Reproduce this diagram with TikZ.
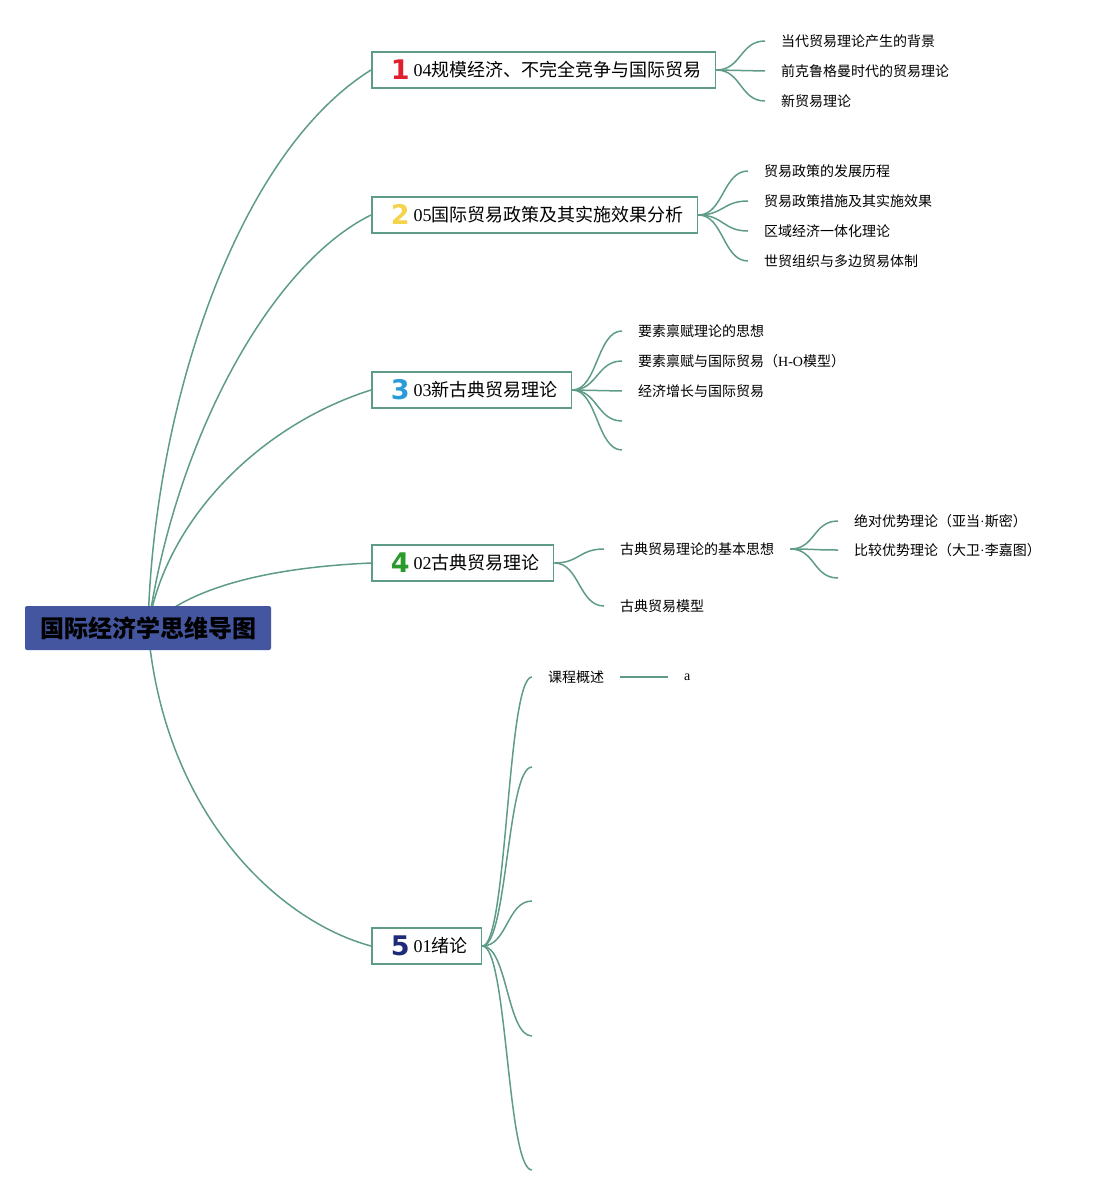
\documentclass[tikz,border=0pt]{standalone}
\usepackage{fontspec}
\setmainfont{Liberation Serif}
\newfontfamily\cjk{Noto Sans CJK SC}
\newfontfamily\numfont{DejaVu Sans}[UprightFont=*, BoldFont=* Bold]
\usetikzlibrary{backgrounds}

\newcommand\numicon[2]{\hspace*{5pt}\smash{\raisebox{-3pt}{\numfont\bfseries\fontsize{27}{27}\selectfont\color{#1}#2}}\hspace{4pt}}

\begin{document}
\begin{tikzpicture}[x=1pt, y=-1pt,
  topic/.style={fill=root blue, rounded corners=2pt, minimum width=246pt, minimum height=44pt,
                font=\cjk\bfseries\fontsize{24}{24}\selectfont},
  branch/.style={draw=link green, line width=1.6pt, fill=white, anchor=west, minimum height=36pt,
                 inner xsep=14pt, font=\cjk\fontsize{18}{18}\selectfont},
  leaf/.style={anchor=west, inner xsep=16pt, inner ysep=0pt, font=\cjk\fontsize{14}{14}\selectfont},
  link/.style={draw=link green, line width=1.5pt}]

\definecolor{link green}{HTML}{5E9C88}
\definecolor{root blue}{HTML}{4456A0}
\definecolor{icon red}{HTML}{E0202F}
\definecolor{icon yellow}{HTML}{F4D44C}
\definecolor{icon blue}{HTML}{2A9BD9}
\definecolor{icon green}{HTML}{2A9A2A}
\definecolor{icon navy}{HTML}{1F2A7A}

\useasboundingbox (0,0) rectangle (1100,1196);

% centre and main topics
\node[topic] (root) at (148,628) {国际经济学思维导图};
\node[branch] (b1) at (371,70)  {\numicon{icon red}{1}{\rmfamily 04}规模经济、不完全竞争与国际贸易};
\node[branch] (b2) at (371,215) {\numicon{icon yellow}{2}{\rmfamily 05}国际贸易政策及其实施效果分析};
\node[branch] (b3) at (371,390) {\numicon{icon blue}{3}{\rmfamily 03}新古典贸易理论};
\node[branch] (b4) at (371,563) {\numicon{icon green}{4}{\rmfamily 02}古典贸易理论};
\node[branch] (b5) at (371,946) {\numicon{icon navy}{5}{\rmfamily 01}绪论};

\begin{scope}[on background layer]
 \draw[link] (root.center) .. controls (153,410) and (235,155) .. (b1.west);
 \draw[link] (root.center) .. controls (175,440) and (270,265) .. (b2.west);
 \draw[link] (root.center) .. controls (165,520) and (260,425) .. (b3.west);
 \draw[link] (root.center) .. controls (185,590) and (260,568) .. (b4.west);
 \draw[link] (root.center) .. controls (163,810) and (275,920) .. (b5.west);
\end{scope}

% 04
\node[leaf] (c11) at (765,41)  {当代贸易理论产生的背景};
\node[leaf] (c12) at (765,71)  {前克鲁格曼时代的贸易理论};
\node[leaf] (c13) at (765,101) {新贸易理论};
% 05
\node[leaf] (c21) at (748,171) {贸易政策的发展历程};
\node[leaf] (c22) at (748,201) {贸易政策措施及其实施效果};
\node[leaf] (c23) at (748,231) {区域经济一体化理论};
\node[leaf] (c24) at (748,261) {世贸组织与多边贸易体制};
% 03
\node[leaf] (c31) at (622,331) {要素禀赋理论的思想};
\node[leaf] (c32) at (622,361) {要素禀赋与国际贸易（{\rmfamily H-O}模型）};
\node[leaf] (c33) at (622,391) {经济增长与国际贸易};
\node[leaf] (c34) at (622,421) {};
\node[leaf] (c35) at (622,450) {};
% 02
\node[leaf] (c41) at (604,549) {古典贸易理论的基本思想};
\node[leaf] (c42) at (604,606) {古典贸易模型};
\node[leaf] (c411) at (838,521) {绝对优势理论（亚当{\rmfamily ·}斯密）};
\node[leaf] (c412) at (838,550) {比较优势理论（大卫{\rmfamily ·}李嘉图）};
\node[leaf] (c413) at (838,578) {};
% 01
\node[leaf] (c51) at (532,677)  {课程概述};
\node[leaf] (c511) at (668,677) {\rmfamily a};
\node[leaf] (c52) at (532,767)  {};
\node[leaf] (c53) at (532,901)  {};
\node[leaf] (c54) at (532,1036) {};
\node[leaf] (c55) at (532,1170) {};

\foreach \c in {c11,c12,c13}
  \draw[link] (b1.east) .. controls +(25,0) and +(-25,0) .. (\c.west);
\foreach \c in {c21,c22,c23,c24}
  \draw[link] (b2.east) .. controls +(25,0) and +(-25,0) .. (\c.west);
\foreach \c in {c31,c32,c33,c34,c35}
  \draw[link] (b3.east) .. controls +(25,0) and +(-25,0) .. (\c.west);
\foreach \c in {c41,c42}
  \draw[link] (b4.east) .. controls +(25,0) and +(-25,0) .. (\c.west);
\foreach \c in {c411,c412,c413}
  \draw[link] (c41.east) .. controls +(25,0) and +(-25,0) .. (\c.west);
\foreach \c in {c51,c52,c53,c54,c55}
  \draw[link] (b5.east) .. controls +(25,0) and +(-25,0) .. (\c.west);
\draw[link] (c51.east) -- (c511.west);

\end{tikzpicture}
\end{document}
